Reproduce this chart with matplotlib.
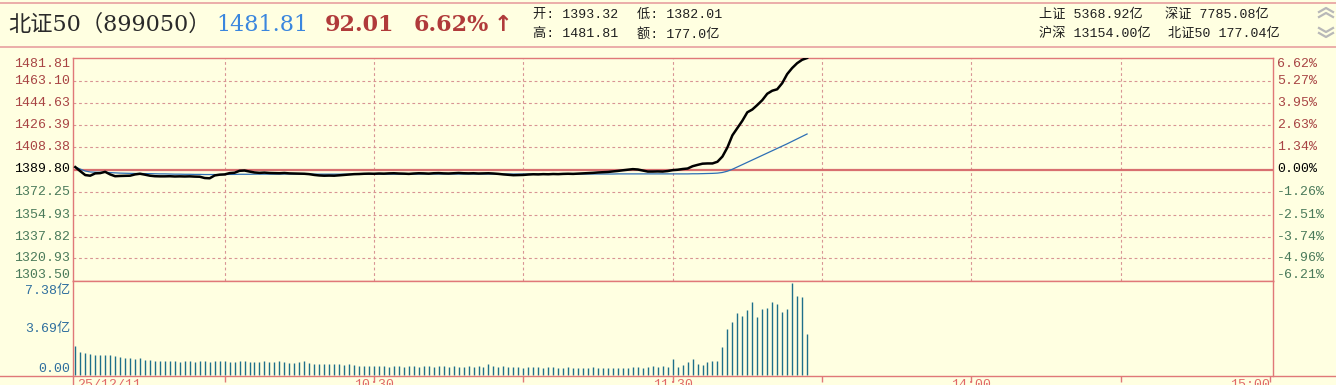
import numpy as np
import matplotlib
matplotlib.use('Agg')
import matplotlib.pyplot as plt
from matplotlib.lines import Line2D
from matplotlib.transforms import blended_transform_factory

W, H = 1336, 385
BG = '#FFFFE1'
BORDER = '#E07878'
GRID = '#D89494'
UP = '#A84444'
DOWN = '#4A7A5A'

# ---- data ----
base = 1389.80
price_ticks = [1481.81, 1463.10, 1444.63, 1426.39, 1408.38, 1389.80,
               1372.25, 1354.93, 1337.82, 1320.93, 1303.50]
pct_ticks = ['6.62%', '5.27%', '3.95%', '2.63%', '1.34%', '0.00%',
             '-1.26%', '-2.51%', '-3.74%', '-4.96%', '-6.21%']
vol_ticks = [7.38, 3.69, 0.0]
vol_labels = ['7.38亿', '3.69亿', '0.00']
time_ticks = [0, 60, 120, 180, 240]
time_labels = ['25/12/11', '10:30', '11:30', '14:00', '15:00']

price = [1391.8, 1388.5, 1385.5, 1385.0, 1386.8, 1387.0, 1388.0, 1386.0, 1384.6, 1384.8,
         1384.9, 1385.0, 1386.0, 1386.5, 1385.8, 1385.0, 1384.6, 1384.5, 1384.5, 1384.6,
         1384.4, 1384.5, 1384.4, 1384.5, 1384.3, 1384.2, 1383.2, 1383.0, 1385.2, 1385.8,
         1386.0, 1387.0, 1387.3, 1388.8, 1389.0, 1388.2, 1387.5, 1387.2, 1387.4, 1387.1,
         1387.0, 1386.9, 1387.1, 1386.8, 1386.7, 1386.6, 1386.5, 1386.2, 1385.6, 1385.2,
         1385.0, 1385.1, 1385.0, 1385.3, 1385.6, 1385.9, 1386.2, 1386.3, 1386.5, 1386.6,
         1386.5, 1386.7, 1386.6, 1386.8, 1386.9, 1386.7, 1386.6, 1386.4, 1386.7, 1386.9,
         1386.8, 1386.6, 1386.9, 1387.0, 1386.8, 1386.7, 1386.9, 1387.1, 1386.9, 1386.8,
         1386.9, 1386.7, 1386.8, 1386.9, 1386.7, 1386.4, 1386.0, 1385.7, 1385.4, 1385.5,
         1385.6, 1385.9, 1386.1, 1386.0, 1386.2, 1386.1, 1386.3, 1386.2, 1386.4, 1386.5,
         1386.4, 1386.6, 1386.8, 1387.0, 1387.2, 1387.5, 1387.7, 1387.9, 1388.3, 1388.7,
         1389.2, 1389.6, 1390.1, 1389.8, 1389.0, 1388.2, 1388.2, 1388.3, 1388.2, 1388.6,
         1389.3, 1389.6, 1390.2, 1390.6, 1392.5, 1393.6, 1394.6, 1394.8, 1394.8, 1396.2,
         1400.5, 1408.0, 1418.0, 1424.0, 1430.0, 1437.0, 1439.3, 1443.0, 1447.0, 1452.3,
         1454.8, 1456.0, 1461.0, 1468.5, 1473.5, 1477.5, 1480.3, 1481.81]

avg = [1391.8, 1390.2, 1388.6, 1387.9, 1387.7, 1387.6, 1387.6, 1387.4, 1387.2, 1387.0,
       1386.9, 1386.8, 1386.7, 1386.7, 1386.6, 1386.6, 1386.5, 1386.4, 1386.4, 1386.3,
       1386.2, 1386.2, 1386.1, 1386.1, 1386.0, 1386.0, 1385.9, 1385.9, 1385.9, 1385.9,
       1385.9, 1386.0, 1386.0, 1386.1, 1386.1, 1386.1, 1386.2, 1386.2, 1386.2, 1386.2,
       1386.2, 1386.2, 1386.3, 1386.3, 1386.3, 1386.3, 1386.3, 1386.3, 1386.2, 1386.2,
       1386.2, 1386.2, 1386.2, 1386.2, 1386.2, 1386.2, 1386.2, 1386.2, 1386.2, 1386.2,
       1386.2, 1386.2, 1386.2, 1386.2, 1386.2, 1386.2, 1386.2, 1386.2, 1386.2, 1386.3,
       1386.3, 1386.3, 1386.3, 1386.3, 1386.3, 1386.3, 1386.3, 1386.3, 1386.3, 1386.3,
       1386.3, 1386.3, 1386.3, 1386.3, 1386.3, 1386.3, 1386.3, 1386.3, 1386.3, 1386.3,
       1386.3, 1386.3, 1386.3, 1386.3, 1386.3, 1386.3, 1386.3, 1386.3, 1386.3, 1386.3,
       1386.3, 1386.3, 1386.3, 1386.3, 1386.3, 1386.3, 1386.3, 1386.3, 1386.3, 1386.4,
       1386.4, 1386.4, 1386.4, 1386.4, 1386.4, 1386.4, 1386.4, 1386.4, 1386.4, 1386.4,
       1386.4, 1386.4, 1386.4, 1386.4, 1386.5, 1386.5, 1386.6, 1386.7, 1386.8, 1387.0,
       1387.5, 1388.5, 1390.0, 1391.9, 1393.8, 1395.8, 1397.7, 1399.6, 1401.4, 1403.3,
       1405.2, 1407.0, 1408.9, 1411.0, 1413.0, 1415.1, 1417.1, 1419.1]

vol = [2.30, 1.84, 1.76, 1.65, 1.57, 1.55, 1.57, 1.57, 1.49, 1.44,
       1.35, 1.31, 1.25, 1.35, 1.17, 1.17, 1.09, 1.09, 1.12, 1.05,
       1.10, 1.02, 1.08, 1.05, 1.00, 1.06, 1.10, 1.02, 1.05, 1.08,
       1.12, 1.04, 1.00, 1.10, 1.06, 1.02, 1.03, 1.00, 1.05, 1.00,
       0.98, 1.10, 1.02, 0.95, 0.92, 0.98, 1.05, 0.90, 0.88, 0.84,
       0.86, 0.82, 0.88, 0.84, 0.80, 0.84, 0.80, 0.70, 0.66, 0.72,
       0.68, 0.65, 0.70, 0.62, 0.66, 0.68, 0.60, 0.65, 0.70, 0.64,
       0.68, 0.66, 0.62, 0.65, 0.68, 0.62, 0.65, 0.60, 0.64, 0.66,
       0.62, 0.65, 0.60, 0.82, 0.65, 0.62, 0.66, 0.60, 0.58, 0.62,
       0.56, 0.60, 0.58, 0.62, 0.55, 0.58, 0.60, 0.56, 0.54, 0.58,
       0.55, 0.52, 0.56, 0.54, 0.58, 0.55, 0.52, 0.56, 0.54, 0.52,
       0.55, 0.53, 0.58, 0.60, 0.56, 0.62, 0.65, 0.60, 0.67, 0.64,
       1.24, 0.62, 0.80, 0.98, 1.24, 0.88, 0.76, 1.00, 1.08, 1.10,
       2.24, 3.68, 4.22, 4.95, 4.68, 5.22, 5.84, 4.62, 5.27, 5.38,
       5.84, 5.70, 5.06, 5.27, 7.38, 6.35, 6.24, 3.27]

minutes = np.arange(len(price))

lo, hi = price_ticks[-1], price_ticks[0]


def fwd(v):
    v = np.asarray(v, dtype=float)
    return np.where(v >= base, (v - base) / (hi - base), (v - base) / (base - lo))


def inv(u):
    u = np.asarray(u, dtype=float)
    return np.where(u >= 0, base + u * (hi - base), base + u * (base - lo))


def rect(l, t, r, b):
    return [l / W, 1 - b / H, (r - l) / W, (b - t) / H]


def fx(x):
    return x / W


def fy(y):
    return 1 - y / H


MONO = ['Liberation Mono', 'Noto Sans CJK SC']
BIG = ['DejaVu Serif', 'Noto Sans CJK SC']
fs_small = 9.5

fig = plt.figure(figsize=(W / 100, H / 100), dpi=100, facecolor=BG)

# ---- header ----
for y in (2.5, 46.5):
    fig.add_artist(Line2D([0, 1], [fy(y), fy(y)], color='#E8A0A0', lw=1.2))
fig.text(fx(8), fy(25), '北证50（899050）', family=BIG, fontsize=16, color='#2A2A2A', va='center')
fig.text(fx(216), fy(25), '1481.81', family=BIG, fontsize=16, color='#3A86DE', va='center')
fig.text(fx(325), fy(25), '92.01', family=BIG, fontsize=16, color='#B03A3A', va='center', weight='bold')
fig.text(fx(414), fy(25), '6.62%', family=BIG, fontsize=16, color='#B03A3A', va='center', weight='bold')
fig.text(fx(494), fy(25), '↑', family=['DejaVu Sans'], fontsize=16, color='#B03A3A', va='center', weight='bold')
hdr_small = [(533, 15, '开: 1393.32'), (637, 15, '低: 1382.01'),
             (533, 34, '高: 1481.81'), (637, 34, '额: 177.0亿'),
             (1039, 15, '上证 5368.92亿'), (1165, 15, '深证 7785.08亿'),
             (1039, 34, '沪深 13154.00亿'), (1168, 34, '北证50 177.04亿')]
for x, y, s in hdr_small:
    fig.text(fx(x), fy(y), s, family=MONO, fontsize=fs_small, color='#1E1E1E', va='center')

# scroll chevrons (decoration at the top right)
for yc in (9, 14):
    fig.add_artist(Line2D([fx(1319), fx(1326), fx(1333)], [fy(yc + 3), fy(yc - 1), fy(yc + 3)],
                          color='#B8B8B8', lw=1.6))
for yc in (31, 36):
    fig.add_artist(Line2D([fx(1319), fx(1326), fx(1333)], [fy(yc - 3), fy(yc + 1), fy(yc - 3)],
                          color='#B8B8B8', lw=1.6))

# ---- price panel ----
ax = fig.add_axes(rect(73, 58, 1273, 281), facecolor=BG)
ax.set_yscale('function', functions=(fwd, inv))
ax.plot(minutes, avg, color='#2E6FB5', lw=0.9, zorder=3)
ax.plot(minutes, price, color='black', lw=1.8, zorder=4)
ax.set_ylim(lo, hi)
ax.set_xlim(-0.46, 240.6)
for v in price_ticks[1:-1]:
    if v == base:
        ax.axhline(v, color='#D87070', lw=1.6, zorder=2)
    else:
        ax.axhline(v, color=GRID, lw=0.8, ls=(0, (2.5, 2.5)), zorder=1)
for m in range(30, 240, 30):
    ax.axvline(m, color=GRID, lw=0.8, ls=(0, (2.5, 2.5)), zorder=1)
ax.set_xticks([])
ax.set_yticks([])
ax.minorticks_off()
for s in ax.spines.values():
    s.set_color(BORDER)
    s.set_linewidth(1.0)

tl = blended_transform_factory(ax.transAxes, ax.transData)
n = len(price_ticks)
for k, (v, p) in enumerate(zip(price_ticks, pct_ticks)):
    col = UP if v > base else ('black' if v == base else DOWN)
    va = 'top' if k == 0 else ('bottom' if k == n - 1 else 'center')
    ax.text(-3 / 1200, v, f'{v:.2f}', transform=tl, ha='right', va=va,
            family=MONO, fontsize=fs_small, color=col, clip_on=False)
    ax.text(1 + 4 / 1200, v, p, transform=tl, ha='left', va=va,
            family=MONO, fontsize=fs_small, color=col, clip_on=False)

# ---- volume panel ----
av = fig.add_axes(rect(73, 281, 1273, 376), facecolor=BG)
av.vlines(minutes, 0, vol, color='#1E6F8A', lw=1.0)
av.set_xlim(-0.46, 240.6)
av.set_ylim(-0.12, 7.52)
av.set_yticks([])
av.set_xticks(list(range(30, 241, 30)))
av.set_xticklabels([])
av.tick_params(axis='x', direction='out', length=4, color=BORDER, width=1)
for s in av.spines.values():
    s.set_color(BORDER)
    s.set_linewidth(1.0)
av.spines['bottom'].set_visible(False)
tv = blended_transform_factory(av.transAxes, av.transData)
for k, (v, s) in enumerate(zip(vol_ticks, vol_labels)):
    va = 'center' if k < len(vol_ticks) - 1 else 'bottom'
    yv = 6.75 if k == 0 else v
    av.text(-3 / 1200, yv, s, transform=tv, ha='right', va=va,
            family=MONO, fontsize=fs_small, color='#2E6E9E', clip_on=False)

fig.add_artist(Line2D([0, 1], [fy(376), fy(376)], color=BORDER, lw=1.0))
fig.add_artist(Line2D([fx(73), fx(73)], [fy(376), 0], color=BORDER, lw=1.0))

tx = blended_transform_factory(av.transData, av.transAxes)
for k, (m, s) in enumerate(zip(time_ticks, time_labels)):
    ha = 'left' if k == 0 else ('right' if k == len(time_ticks) - 1 else 'center')
    xm = m + 0.4 if k == 0 else m
    av.text(xm, -2.5 / 95, s, transform=tx, ha=ha, va='top',
            family=MONO, fontsize=fs_small, color='#E06868', clip_on=False)

fig.savefig('out.png', dpi=100, facecolor=BG)
